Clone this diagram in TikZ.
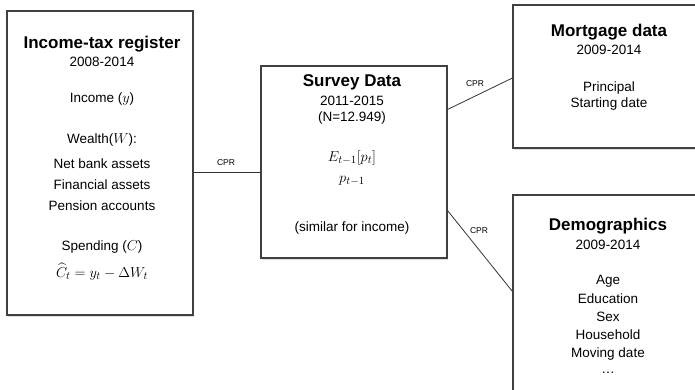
\documentclass[tikz,border=0pt]{standalone}
\usepackage{fontspec}
\setmainfont{Liberation Sans}
\usepackage{amsmath}
\usetikzlibrary{shadows}
\tikzset{
	box/.style={
		draw=black!75,
		line width=1.1pt,
		fill=white,
		drop shadow={shadow xshift=1pt, shadow yshift=-1.5pt, opacity=.25},
		inner sep=0pt
	},
	ttl/.style={anchor=base, inner sep=1pt, font=\fontsize{17}{20}\selectfont\bfseries},
	txt/.style={anchor=base, inner sep=1pt, font=\fontsize{13.5}{16}\selectfont},
	cpr/.style={anchor=base, inner sep=1pt, font=\fontsize{8.5}{10}\selectfont},
	link/.style={draw=black!80, line width=.8pt}
}

\begin{document}
\begin{tikzpicture}[x=1pt, y=-1pt]
\useasboundingbox (0,0) rectangle (695,389);
\clip (0,0) rectangle (695,389);

% boxes
\node[box, minimum width=186pt, minimum height=304pt] (tax) at (100,163) {};
\node[box, minimum width=186pt, minimum height=192pt] (survey) at (354,162) {};
\node[box, minimum width=190pt, minimum height=143pt] (mort) at (608,76.5) {};
\node[box, minimum width=190pt, minimum height=205pt] (demo) at (608,297.5) {};

% income-tax register
\node[ttl] (taxT) at (102,48) {Income-tax register};
\foreach \t/\y [count=\i] in {{2008-2014}/66, {Income ($y$)}/102, {Wealth($W$):}/143,
	{Net bank assets}/168, {Financial assets}/189, {Pension accounts}/210,
	{Spending ($C$)}/250, {\fontsize{15.5}{18}\selectfont$\widehat{C}_t = y_t - \Delta W_t$}/277} {
	\node[txt] (tax\i) at (102,\y) {\t};
}

% survey
\node[ttl] (surveyT) at (352,86) {Survey Data};
\foreach \t/\y [count=\i] in {{2011-2015}/105, {(N=12.949)}/121,
	{\fontsize{15}{17}\selectfont$E_{t-1}[p_t]$}/161, {\fontsize{15}{17}\selectfont$p_{t-1}$}/182,
	{(similar for income)}/231} {
	\node[txt] (survey\i) at (352,\y) {\t};
}

% mortgage
\node[ttl] (mortT) at (609,36) {Mortgage data};
\foreach \t/\y [count=\i] in {{2009-2014}/54, {Principal}/91, {Starting date}/107} {
	\node[txt] (mort\i) at (609,\y) {\t};
}

% demographics
\node[ttl] (demoT) at (608,230) {Demographics};
\foreach \t/\y [count=\i] in {{2009-2014}/249, {Age}/284, {Education}/303, {Sex}/321,
	{Household}/339, {Moving date}/357, {\dots}/373} {
	\node[txt] (demo\i) at (608,\y) {\t};
}

% links
\draw[link] ([yshift=-9pt]tax.east) -- ([yshift=-10pt]survey.west);
\draw[link] ([yshift=-44pt]survey.north east) -- ([yshift=-1.5pt]mort.west);
\draw[link] ([yshift=48pt]survey.south east) -- ([yshift=-97pt]demo.north west);

\node[cpr] (cprA) at (226,165) {CPR};
\node[cpr] (cprB) at (475,86) {CPR};
\node[cpr] (cprC) at (479,233) {CPR};
\end{tikzpicture}
\end{document}
